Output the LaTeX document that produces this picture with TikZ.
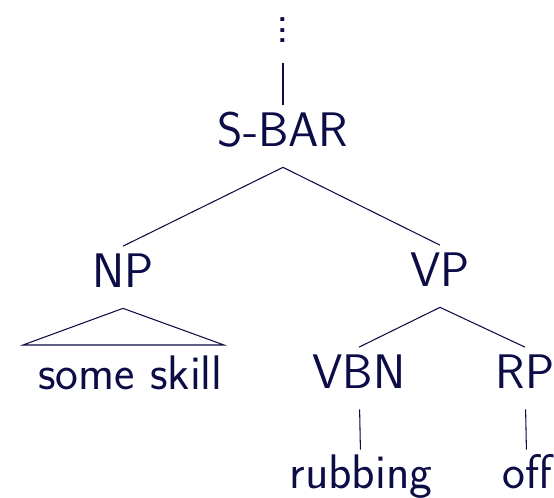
\documentclass[tikz,border=0pt]{standalone}
\usepackage{tikz}
\usetikzlibrary{positioning}
\definecolor{tNavy}{RGB}{12,12,70}
\newcommand{\treedots}{\vbox{\baselineskip=6pt\lineskiplimit=0pt\hbox{.}\hbox{.}\hbox{.}}}

\begin{document}
\begin{tikzpicture}[
    font=\sffamily\fontsize{27.6}{33}\selectfont,
    every node/.style={text=tNavy},
    cat/.style={anchor=base, inner xsep=0pt, inner ysep=0.2cm, text height=0.63cm, text depth=0.2cm},
    leaf/.style={anchor=base, inner xsep=0pt, inner ysep=0.2cm, text height=0.58cm, text depth=0.2cm},
    branch/.style={tNavy, line width=0.6pt}
]
  \useasboundingbox (0,0) rectangle (11.08,9.96);

  \node[anchor=base, inner xsep=0pt, inner ysep=0.2cm, text depth=0.2cm] (up) at (5.66,9.10) {\treedots};

  \node[cat] (sbar) at (5.66,7.02) {S-BAR};
  \node[cat] (np) at (2.46,4.20) {NP};
  \node[cat] (vp) at (8.80,4.22) {VP};
  \node[cat] (vbn) at (7.18,2.18) {VBN};
  \node[cat] (rp) at (10.50,2.18) {RP};

  \node[leaf] (skill) at (2.61,2.16) {some skill};
  \node[leaf] (rub) at (7.22,0.18) {rubbing};
  \node[leaf] (off) at (10.54,0.18) {off};

  % roof over the unanalysed NP
  \coordinate (roofL) at (0.46,3.06);
  \coordinate (roofR) at (4.48,3.06);

  \draw[branch] (up) -- (sbar);
  \draw[branch] (sbar.south) -- (np.north);
  \draw[branch] (sbar.south) -- (vp.north);
  \draw[branch] (np.south) -- (roofL) -- (roofR) -- cycle;
  \draw[branch] (vp.south) -- (vbn.north);
  \draw[branch] (vp.south) -- (rp.north);
  \draw[branch] (vbn) -- (rub);
  \draw[branch] (rp) -- (off);
\end{tikzpicture}
\end{document}
